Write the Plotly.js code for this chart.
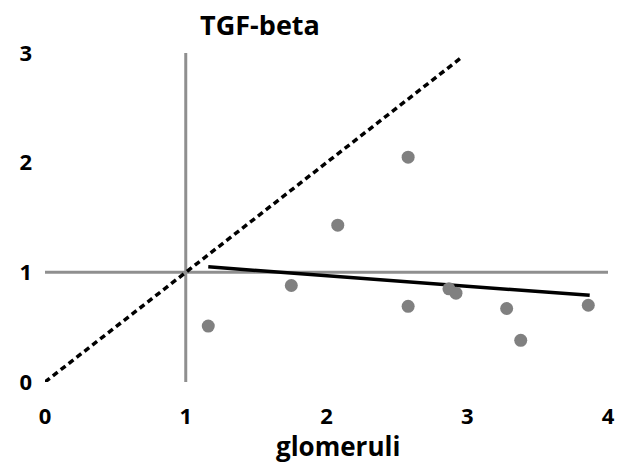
<!DOCTYPE html>
<html>
<head>
<meta charset="utf-8">
<script src="https://cdn.plot.ly/plotly-3.0.1.min.js"></script>
<style>html,body{margin:0;padding:0;background:#fff;}#chart{width:630px;height:465px;}</style>
</head>
<body>
<div id="chart"></div>
<script>
// Data points (glomeruli vs TGF-beta)
var glomeruli = [1.16, 1.75, 2.08, 2.58, 2.58, 2.87, 2.92, 3.28, 3.38, 3.86];
var tgfBeta   = [0.51, 0.88, 1.43, 2.05, 0.69, 0.85, 0.81, 0.67, 0.38, 0.70];
// Linear trend line endpoints
var trendX = [1.16, 3.87];
var trendY = [1.05, 0.79];
// Identity (y = x) dashed line
var identityX = [0, 2.97];
var identityY = [0, 2.97];
// Reference lines at 1
var vRefX = [1, 1];
var vRefY = [0, 3];
var hRefX = [0, 4];
var hRefY = [1, 1];
var xTicks = [0, 1, 2, 3, 4];
var yTicks = [0, 1, 2, 3];

var FONT = 'Open Sans, Noto Sans, sans-serif';
var traces = [
  {x: vRefX, y: vRefY, mode: 'lines', line: {color: '#8f8f8f', width: 3}, hoverinfo: 'skip', cliponaxis: false},
  {x: hRefX, y: hRefY, mode: 'lines', line: {color: '#8f8f8f', width: 3}, hoverinfo: 'skip', cliponaxis: false},
  {x: identityX, y: identityY, mode: 'lines', line: {color: '#000', width: 3.5, dash: '6px,4px'}, cliponaxis: false},
  {x: trendX, y: trendY, mode: 'lines', line: {color: '#000', width: 3.5}, cliponaxis: false},
  {x: glomeruli, y: tgfBeta, mode: 'markers', marker: {color: '#808080', size: 13}, cliponaxis: false}
];

var layout = {
  width: 630, height: 465,
  margin: {l: 45, r: 22, t: 53, b: 82.5},
  paper_bgcolor: '#fff', plot_bgcolor: '#fff',
  showlegend: false,
  title: {
    text: '<b>TGF-beta</b>',
    font: {family: FONT, size: 27, color: '#000'},
    xref: 'container', yref: 'container',
    x: 260/630, xanchor: 'center',
    y: 1 - 26/465, yanchor: 'middle'
  },
  xaxis: {
    range: [0, 4], tickvals: xTicks, ticktext: xTicks.map(String),
    showgrid: false, zeroline: false, showline: false, ticks: '',
    ticklabelstandoff: 19,
    tickfont: {family: FONT, size: 22, color: '#000', weight: 'bold'},
    fixedrange: true
  },
  yaxis: {
    range: [0, 3], tickvals: yTicks, ticktext: yTicks.map(String),
    showgrid: false, zeroline: false, showline: false, ticks: '',
    ticklabelstandoff: 12,
    tickfont: {family: FONT, size: 22, color: '#000', weight: 'bold'},
    fixedrange: true
  },
  annotations: [{
    text: '<b>glomeruli</b>', xref: 'paper', yref: 'paper',
    x: (337.5 - 45) / 563, y: -0.195, xanchor: 'center', yanchor: 'middle',
    showarrow: false, font: {family: FONT, size: 26, color: '#000'}
  }]
};

Plotly.newPlot('chart', traces, layout, {displayModeBar: false, staticPlot: true});
</script>
</body>
</html>
